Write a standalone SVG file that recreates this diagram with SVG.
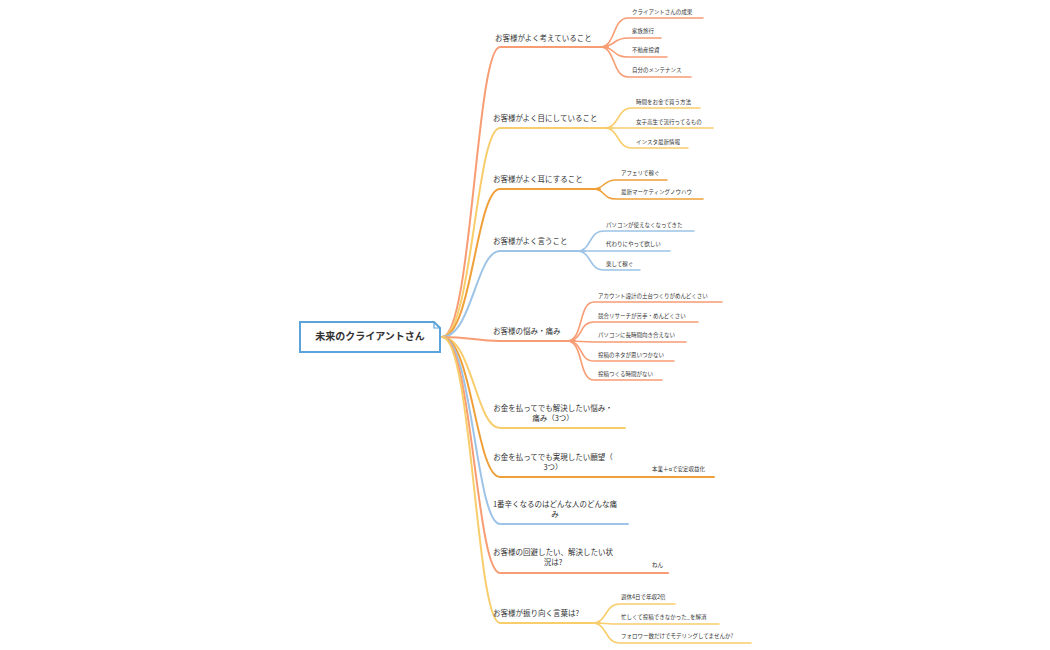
<svg xmlns="http://www.w3.org/2000/svg" width="1050" height="650" viewBox="0 0 1050 650">
<style>
text{font-family:"Noto Sans CJK JP","Noto Sans",sans-serif;fill:#333}
.m{font-size:7.5px}
.c{font-size:5.5px}
.l{fill:none;stroke-linecap:round}
.main{stroke-width:2}
.ch{stroke-width:1.6}
.o{stroke:#F89C73}.y{stroke:#F8CD6C}.a{stroke:#EFA03A}.b{stroke:#9DC3E6}
</style>
<rect width="1050" height="650" fill="#fff"/>
<g id="connectors">
<path class="l main o" d="M442,337 C472,337 476,47 500,47 L608,47"/>
<path class="l main y" d="M442,337 C472,337 476,128 500,128 L612,128"/>
<path class="l main a" d="M442,337 C472,337 476,189 500,189 L600,189"/>
<path class="l main b" d="M442,337 C472,337 476,251 500,251 L585,251"/>
<path class="l main o" d="M442,337 C470,337 476,341 500,341 L575,341"/>
<path class="l main y" d="M442,337 C472,337 476,428 500,428 L625,428"/>
<path class="l main a" d="M442,337 C472,337 476,477 500,477 L714,477"/>
<path class="l main b" d="M442,337 C472,337 476,524 500,524 L628,524"/>
<path class="l main o" d="M442,337 C472,337 476,573 500,573 L668,573"/>
<path class="l main y" d="M442,337 C472,337 476,623 500,623 L600,623"/>
<g class="l ch o">
<path d="M600,47 C616,47 612,18 628,18 L703,18"/><path d="M600,47 C616,47 612,38 628,38 L661,38"/><path d="M600,47 C616,47 612,57 628,57 L667,57"/><path d="M600,47 C616,47 612,77 628,77 L691,77"/>
<path d="M567,341 C584,341 578,302 594,302 L722,302"/><path d="M567,341 C584,341 578,322 594,322 L698,322"/><path d="M567,341 C584,341 578,342 594,342 L686,342"/><path d="M567,341 C584,341 578,361 594,361 L674,361"/><path d="M567,341 C584,341 578,380 594,380 L662,380"/>
</g>
<g class="l ch y">
<path d="M604,128 C620,128 616,108 632,108 L700,108"/><path d="M604,128 L713,128"/><path d="M604,128 C620,128 616,148 632,148 L688,148"/>
<path d="M592,623 C608,623 604,604 620,604 L675,604"/><path d="M592,623 C608,623 604,624 620,624 L719,624"/><path d="M592,623 C608,623 604,643 620,643 L751,643"/>
</g>
<g class="l ch a">
<path d="M592,189 C606,189 602,180 616,180 L667,180"/><path d="M592,189 C606,189 602,199 616,199 L703,199"/>
</g>
<g class="l ch b">
<path d="M577,251 C592,251 588,231 604,231 L694,231"/><path d="M577,251 L670,251"/><path d="M577,251 C592,251 588,270 604,270 L640,270"/>
</g>
</g>
<g id="root">
<path d="M300,322 H434 L440,328 V352 H300 Z" fill="#fff" stroke="#5BA3D9" stroke-width="2"/>
<path d="M434,322 V328 H440" fill="none" stroke="#5BA3D9" stroke-width="1.2"/>
<text x="370" y="340" text-anchor="middle" font-size="10" font-weight="bold">未来のクライアントさん</text>
</g>
<g id="b1"><text class="m" x="495" y="41">お客様がよく考えていること</text>
<text class="c" x="632" y="14">クライアントさんの成果</text><text class="c" x="632" y="33">家族旅行</text><text class="c" x="632" y="52">不動産投資</text><text class="c" x="632" y="72">自分のメンテナンス</text></g>
<g id="b2"><text class="m" x="493" y="121">お客様がよく目にしていること</text>
<text class="c" x="636" y="104">時間をお金で買う方法</text><text class="c" x="636" y="124">女子高生で流行ってるもの</text><text class="c" x="636" y="144">インスタ最新情報</text></g>
<g id="b3"><text class="m" x="493" y="182">お客様がよく耳にすること</text>
<text class="c" x="621" y="175">アフェリで稼ぐ</text><text class="c" x="621" y="194">最新マーケティングノウハウ</text></g>
<g id="b4"><text class="m" x="493" y="244">お客様がよく言うこと</text>
<text class="c" x="606" y="227">パソコンが使えなくなってきた</text><text class="c" x="606" y="246">代わりにやって欲しい</text><text class="c" x="606" y="266">楽して稼ぐ</text></g>
<g id="b5"><text class="m" x="493" y="334">お客様の悩み・痛み</text>
<text class="c" x="598" y="298">アカウント設計の土台つくりがめんどくさい</text><text class="c" x="598" y="318">競合リサーチが苦手・めんどくさい</text><text class="c" x="598" y="337">パソコンに長時間向き合えない</text><text class="c" x="598" y="357">投稿のネタが思いつかない</text><text class="c" x="598" y="376">投稿つくる時間がない</text></g>
<g id="b6"><text class="m" x="553" y="411" text-anchor="middle">お金を払ってでも解決したい悩み・</text><text class="m" x="553" y="421" text-anchor="middle">痛み（3つ）</text></g>
<g id="b7"><text class="m" x="553" y="460" text-anchor="middle">お金を払ってでも実現したい願望（</text><text class="m" x="553" y="470" text-anchor="middle">3つ）</text>
<text class="c" x="652" y="471">本業＋αで安定収益化</text></g>
<g id="b8"><text class="m" x="555" y="507" text-anchor="middle">1番辛くなるのはどんな人のどんな痛</text><text class="m" x="555" y="517" text-anchor="middle">み</text></g>
<g id="b9"><text class="m" x="553" y="555" text-anchor="middle">お客様の回避したい、解決したい状</text><text class="m" x="553" y="565" text-anchor="middle">況は?</text>
<text class="c" x="652" y="567">ねん</text></g>
<g id="b10"><text class="m" x="493" y="616">お客様が振り向く言葉は?</text>
<text class="c" x="621" y="599">週休4日で年収2倍</text><text class="c" x="621" y="619">忙しくて投稿できなかった_を解消</text><text class="c" x="621" y="638">フォロワー数だけでモデリングしてませんか?</text></g>
</svg>
